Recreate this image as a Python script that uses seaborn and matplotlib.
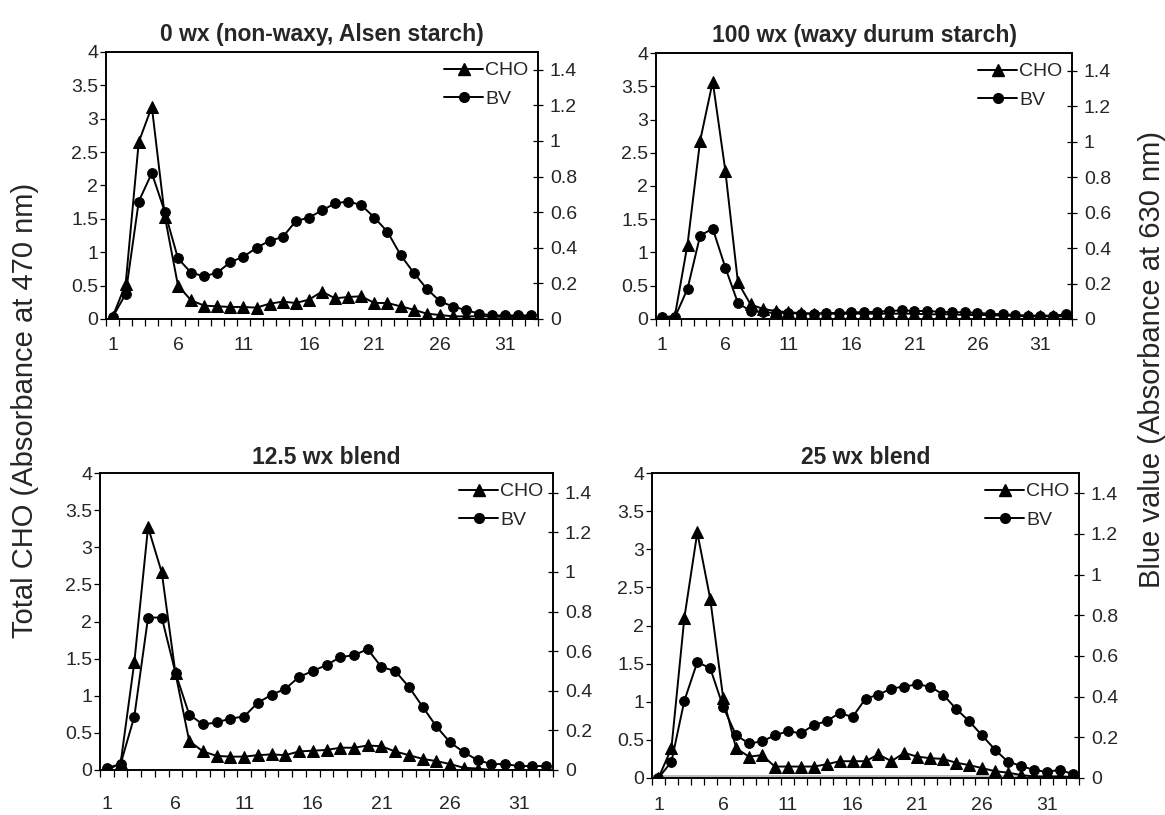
import numpy as np
import pandas as pd
import matplotlib
matplotlib.use("Agg")
import matplotlib.pyplot as plt
import seaborn as sns
from matplotlib.lines import Line2D

# ---------------- data ----------------
fractions = list(range(1, 34))
x_tick_labels = [1, 6, 11, 16, 21, 26, 31]
left_ticks = [0, 0.5, 1, 1.5, 2, 2.5, 3, 3.5, 4]
right_ticks = [0, 0.2, 0.4, 0.6, 0.8, 1, 1.2, 1.4]

titles = ["0 wx (non-waxy, Alsen starch)", "100 wx (waxy durum starch)",
          "12.5 wx blend", "25 wx blend"]

# Total CHO (absorbance at 470 nm)
cho_0wx = [0.03, 0.52, 2.65, 3.18, 1.53, 0.5, 0.28, 0.2, 0.19, 0.18, 0.18, 0.17,
           0.23, 0.26, 0.24, 0.29, 0.41, 0.31, 0.33, 0.34, 0.24, 0.24, 0.19, 0.14,
           0.08, 0.06, 0.04, 0.04, 0.04, 0.04, 0.03, 0.03, 0.03]
cho_100wx = [0.02, 0.05, 1.12, 2.68, 3.57, 2.23, 0.55, 0.22, 0.15, 0.12, 0.1, 0.09,
             0.08, 0.08, 0.08, 0.08, 0.08, 0.08, 0.08, 0.08, 0.08, 0.07, 0.07, 0.07,
             0.06, 0.06, 0.06, 0.05, 0.05, 0.04, 0.04, 0.04, 0.04]
cho_125wx = [0.0, 0.09, 1.45, 3.27, 2.66, 1.3, 0.39, 0.25, 0.19, 0.18, 0.18, 0.2,
             0.21, 0.2, 0.25, 0.26, 0.27, 0.3, 0.3, 0.33, 0.32, 0.25, 0.2, 0.15,
             0.12, 0.08, 0.03, 0.02, 0.0, 0.0, 0.0, 0.0, 0.0]
cho_25wx = [0.0, 0.39, 2.1, 3.22, 2.35, 1.05, 0.39, 0.28, 0.3, 0.15, 0.15, 0.15,
            0.15, 0.18, 0.22, 0.22, 0.22, 0.31, 0.22, 0.33, 0.28, 0.26, 0.25, 0.2,
            0.17, 0.13, 0.09, 0.07, 0.04, 0.02, 0.02, 0.02, 0.01]

# Blue value (absorbance at 630 nm)
bv_0wx = [0.01, 0.14, 0.66, 0.82, 0.6, 0.34, 0.26, 0.24, 0.26, 0.32, 0.35, 0.4,
          0.44, 0.46, 0.55, 0.57, 0.61, 0.65, 0.66, 0.64, 0.57, 0.49, 0.36, 0.26,
          0.17, 0.1, 0.07, 0.05, 0.03, 0.02, 0.02, 0.02, 0.02]
bv_100wx = [0.01, 0.01, 0.17, 0.47, 0.51, 0.29, 0.09, 0.045, 0.038, 0.034, 0.034, 0.03,
            0.03, 0.034, 0.034, 0.038, 0.038, 0.041, 0.045, 0.049, 0.045, 0.045, 0.041,
            0.038, 0.038, 0.034, 0.03, 0.026, 0.023, 0.019, 0.019, 0.019, 0.026]
bv_125wx = [0.01, 0.03, 0.27, 0.77, 0.77, 0.49, 0.28, 0.23, 0.24, 0.26, 0.27, 0.34,
            0.38, 0.41, 0.47, 0.5, 0.53, 0.57, 0.58, 0.61, 0.52, 0.5, 0.42, 0.32,
            0.22, 0.14, 0.09, 0.05, 0.03, 0.03, 0.02, 0.02, 0.02]
bv_25wx = [0.0, 0.08, 0.38, 0.57, 0.54, 0.35, 0.21, 0.17, 0.18, 0.21, 0.23, 0.22,
           0.26, 0.28, 0.32, 0.3, 0.39, 0.41, 0.44, 0.45, 0.46, 0.45, 0.41, 0.34,
           0.28, 0.21, 0.14, 0.08, 0.06, 0.04, 0.03, 0.04, 0.02]

# ---------------- style ----------------
sns.set_style("ticks")
plt.rcParams["font.family"] = ["Liberation Sans", "DejaVu Sans"]

W, H = 1165, 815
fig = plt.figure(figsize=(W / 100, H / 100), dpi=100)
fig.patch.set_facecolor("white")


def px_axes(x0, y0, x1, y1):
    return fig.add_axes([x0 / W, 1 - y1 / H, (x1 - x0) / W, (y1 - y0) / H])


def fmt(v):
    return "{:g}".format(v)


panels = [
    dict(rect=(106, 52, 538, 319), title=titles[0], cho=cho_0wx, bv=bv_0wx,
         tpad=8, xpad=13, grayline=False),
    dict(rect=(656, 53, 1072, 319), title=titles[1], cho=cho_100wx, bv=bv_100wx,
         tpad=8, xpad=13, grayline=False),
    dict(rect=(100, 473, 553, 770), title=titles[2], cho=cho_125wx, bv=bv_125wx,
         tpad=6.5, xpad=19, grayline=False),
    dict(rect=(652, 473, 1079, 778), title=titles[3], cho=cho_25wx, bv=bv_25wx,
         tpad=6.5, xpad=14, grayline=True),
]

for p in panels:
    ax = px_axes(*p["rect"])
    df = pd.DataFrame({"Fraction": fractions, "CHO": p["cho"], "BV": p["bv"]})
    if p["grayline"]:
        ax.axhline(0.03, color="#b5b5b5", lw=1.3, zorder=1)
    sns.lineplot(data=df, x="Fraction", y="CHO", ax=ax, color="black",
                 marker="^", markersize=8, markeredgecolor="black",
                 markerfacecolor="black", linewidth=1.4, legend=False, zorder=3)
    ax2 = ax.twinx()
    sns.lineplot(data=df, x="Fraction", y="BV", ax=ax2, color="black",
                 marker="o", markersize=7, markeredgecolor="black",
                 markerfacecolor="black", linewidth=1.4, legend=False, zorder=3)

    ax.set_xlim(0.5, 33.5)
    ax.set_ylim(0, 4)
    ax2.set_ylim(0, 1.5)

    ax.set_yticks(left_ticks)
    ax.set_yticklabels([fmt(v) for v in left_ticks], fontsize=14)
    ax2.set_yticks(right_ticks)
    ax2.set_yticklabels([fmt(v) for v in right_ticks], fontsize=14)

    ax.set_xticks(x_tick_labels)
    ax.set_xticklabels([str(v) for v in x_tick_labels], fontsize=14)
    ax.set_xticks(np.arange(0.5, 34, 1), minor=True)
    ax.tick_params(axis="x", which="major", length=0, pad=p["xpad"])
    ax.tick_params(axis="x", which="minor", length=5, width=0.9,
                   direction="out", color="black")
    ax.tick_params(axis="y", which="major", length=4, width=0.9,
                   direction="out", pad=1.5, color="black")
    ax2.tick_params(axis="y", which="major", length=7, width=0.9,
                    direction="inout", pad=5, color="black")

    ax.set_xlabel("")
    ax.set_ylabel("")
    ax2.set_ylabel("")
    for a in (ax, ax2):
        for s in a.spines.values():
            s.set_color("black")
            s.set_linewidth(1.2)
            s.set_visible(True)

    ax.set_title(p["title"], fontsize=16.5, fontweight="bold", pad=p["tpad"])

    handles = [
        Line2D([], [], color="black", marker="^", markersize=8, lw=1.4),
        Line2D([], [], color="black", marker="o", markersize=7, lw=1.4),
    ]
    ax2.legend(handles, ["CHO", "BV"], loc="upper right", frameon=False,
               fontsize=14, handlelength=2.0, handletextpad=0.1,
               borderaxespad=0.2, borderpad=0.3, labelspacing=0.55)

fig.text(25 / W, 1 - 410 / H, "Total CHO (Absorbance at 470 nm)",
         rotation=90, ha="center", va="center", fontsize=21)
fig.text(1152 / W, 1 - 360 / H, "Blue value (Absorbance at 630 nm)",
         rotation=90, ha="center", va="center", fontsize=21)

fig.savefig("out.png", dpi=100, facecolor="white")
